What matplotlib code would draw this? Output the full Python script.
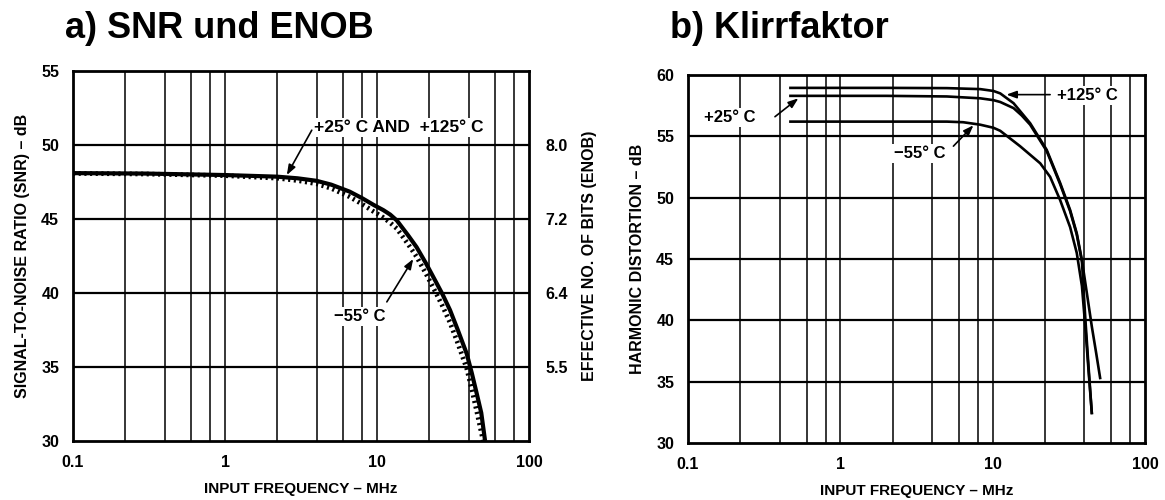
import numpy as np
import matplotlib
matplotlib.use("Agg")
import matplotlib.pyplot as plt
from matplotlib.ticker import FixedLocator, NullFormatter

plt.rcParams["font.family"] = ["Liberation Sans", "DejaVu Sans"]
plt.rcParams["font.weight"] = "bold"
plt.rcParams["axes.labelweight"] = "bold"

# SNR vs input frequency (left chart)
freq_snr = [0.1, 0.3, 1, 2.2, 3, 4, 5, 6.6, 8, 9.5, 11, 12.2, 13.5, 16, 18.2, 21, 24.7, 27, 30.2, 34, 38.9, 42,
            45.3, 48.5, 51.4]
snr_hot = [48.1, 48.07, 47.97, 47.86, 47.75, 47.58, 47.32, 46.85, 46.4, 45.95, 45.6, 45.3, 44.9, 43.9, 43.1, 42.0,
           40.65, 39.9, 38.85, 37.5, 35.9, 34.6, 33.2, 31.9, 30.0]
snr_cold = [48.08, 48.04, 47.93, 47.76, 47.6, 47.38, 47.07, 46.5, 46.0, 45.5, 45.1, 44.75, 44.35, 43.3, 42.45,
            41.3, 39.9, 39.1, 38.0, 36.6, 34.9, 33.5, 32.0, 30.6, 29.4]
enob_ticks = [50, 45, 40, 35]
enob_labels = ["8.0", "7.2", "6.4", "5.5"]

# harmonic distortion vs input frequency (right chart)
freq_125 = [0.47, 2, 5, 8.27, 10.1, 11.2, 13.7, 17.6, 22.6, 27.7, 32.2, 35.6, 38.5, 41.5, 44.7, 47.8, 50.7]
hd_125 = [58.95, 58.95, 58.93, 58.85, 58.7, 58.5, 57.7, 56.07, 53.9, 51.2, 49.0, 47.1, 44.9, 42.2, 39.5, 37.3, 35.3]
freq_25 = [0.47, 2, 5, 8.27, 10.1, 11.2, 13.7, 15.5, 17.6, 22.6, 27.7, 32.2, 35.6, 38.5, 40.5, 42.5, 44.7]
hd_25 = [58.3, 58.3, 58.25, 58.1, 57.95, 57.8, 57.3, 56.7, 55.95, 53.8, 51.1, 48.9, 47.0, 44.8, 40.2, 36.3, 32.45]
freq_m55 = [0.47, 2, 5, 6.4, 8.27, 10.1, 11.2, 15.1, 20.5, 23.8, 27.7, 32.2, 35.6, 38.5, 40.5, 42.5, 44.7]
hd_m55 = [56.2, 56.2, 56.2, 56.15, 55.95, 55.7, 55.45, 54.2, 52.8, 51.7, 49.8, 47.6, 45.5, 42.8, 39.5, 36.0, 32.45]

grid_x = [m * 10.0 ** d for d in (-1, 0, 1) for m in (2.2, 4, 6, 8)] + [1, 10]


def setup_grid(ax, ymin, ymax):
    ax.set_xscale("log")
    ax.set_xlim(0.1, 100)
    ax.set_ylim(ymin, ymax)
    ax.set_xticks([0.1, 1, 10, 100])
    ax.set_xticklabels(["0.1", "1", "10", "100"])
    ax.xaxis.set_minor_locator(FixedLocator([]))
    ax.xaxis.set_minor_formatter(NullFormatter())
    ax.set_yticks(np.arange(ymin, ymax + 1, 5))
    for x in grid_x:
        ax.axvline(x, color="black", lw=1.1, zorder=1)
    for y in np.arange(ymin + 5, ymax, 5):
        ax.axhline(y, color="black", lw=1.6, zorder=1)
    for s in ax.spines.values():
        s.set_linewidth(2.0)
    ax.tick_params(length=0, labelsize=11.5, pad=10)
    ax.set_xlabel("INPUT FREQUENCY – MHz", fontsize=11, labelpad=9)


fig = plt.figure(figsize=(11.65, 5.0), dpi=100)

bbox = dict(facecolor="white", edgecolor="none", pad=1.5)
arrow = dict(arrowstyle="-|>,head_length=0.6,head_width=0.22", color="black", lw=1.2,
             shrinkA=0, shrinkB=0)

# a) SNR and ENOB
ax1 = fig.add_axes([0.0627, 0.118, 0.3914, 0.740])
setup_grid(ax1, 30, 55)
ax1.plot(freq_snr, snr_cold, color="black", lw=3.4, ls=(0, (0.45, 0.75)), zorder=3)
ax1.plot(freq_snr, snr_hot, color="black", lw=3.0, solid_capstyle="butt", solid_joinstyle="round", zorder=4)
ax1.set_ylabel("SIGNAL-TO-NOISE RATIO (SNR) – dB", fontsize=11.5, labelpad=8)

ax1r = ax1.twinx()
ax1r.set_ylim(30, 55)
ax1r.set_yticks(enob_ticks)
ax1r.set_yticklabels(enob_labels)
ax1r.tick_params(length=0, labelsize=11.5, pad=12)
ax1r.set_ylabel("EFFECTIVE NO. OF BITS (ENOB)", fontsize=11.5, labelpad=10)
for s in ax1r.spines.values():
    s.set_visible(False)

ax1.annotate("", xy=(2.55, 47.97), xytext=(3.72, 51.0), arrowprops=arrow, zorder=6)
ax1.text(14.0, 51.2, "+25° C AND  +125° C", ha="center", va="center", fontsize=12.5,
         bbox=bbox, zorder=5)
ax1.annotate("", xy=(17.3, 42.3), xytext=(11.6, 39.4), arrowprops=arrow, zorder=6)
ax1.text(7.64, 38.4, "−55° C", ha="center", va="center", fontsize=12, bbox=bbox, zorder=5)

fig.text(65 / 1165, 1 - 38 / 500, "a) SNR und ENOB", fontsize=26, fontweight="bold",
         ha="left", va="baseline")

# b) harmonic distortion
ax2 = fig.add_axes([0.5906, 0.114, 0.3923, 0.736])
setup_grid(ax2, 30, 60)
ax2.plot(freq_125, hd_125, color="black", lw=1.9, zorder=4)
ax2.plot(freq_25, hd_25, color="black", lw=1.9, zorder=4)
ax2.plot(freq_m55, hd_m55, color="black", lw=1.9, zorder=4)
ax2.set_ylabel("HARMONIC DISTORTION – dB", fontsize=11.5, labelpad=8)

ax2.annotate("", xy=(0.53, 58.1), xytext=(0.372, 56.6), arrowprops=arrow, zorder=6)
ax2.text(0.189, 56.5, "+25° C", ha="center", va="center", fontsize=12, bbox=bbox, zorder=5)
ax2.annotate("", xy=(12.3, 58.4), xytext=(23.8, 58.4), arrowprops=arrow, zorder=6)
ax2.text(41.7, 58.3, "+125° C", ha="center", va="center", fontsize=12, bbox=bbox, zorder=5)
ax2.annotate("", xy=(7.47, 55.9), xytext=(5.52, 54.2), arrowprops=arrow, zorder=6)
ax2.text(3.33, 53.6, "−55° C", ha="center", va="center", fontsize=12, bbox=bbox, zorder=5)

fig.text(670 / 1165, 1 - 38 / 500, "b) Klirrfaktor", fontsize=26, fontweight="bold",
         ha="left", va="baseline")

fig.savefig("out.png", dpi=100)
